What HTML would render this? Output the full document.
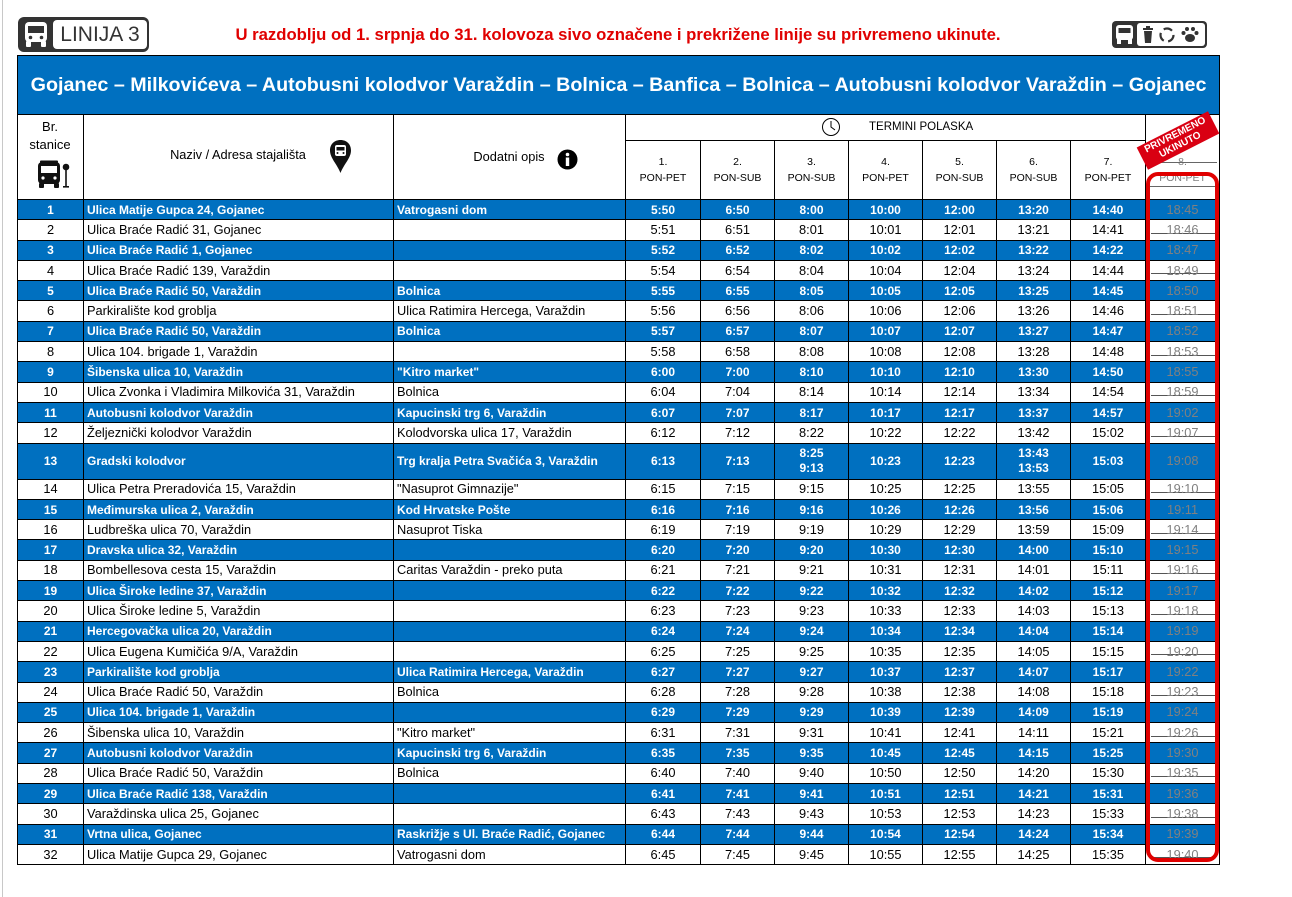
<!DOCTYPE html>
<html>
<head>
<meta charset="utf-8">
<style>
  html,body{margin:0;padding:0;background:#fff;}
  body{width:1292px;height:897px;position:relative;overflow:hidden;font-family:"Liberation Sans",Arial,sans-serif;}
  .abs{position:absolute;}
  .leftline{position:absolute;left:2px;top:0;width:1px;height:897px;background:#c8c8c8;}
  table{position:absolute;left:17px;top:55px;width:1202px;border-collapse:collapse;table-layout:fixed;}
  td{border:1px solid #000;padding:0 3px;font-size:12.8px;color:#000;white-space:nowrap;overflow:hidden;text-align:center;vertical-align:middle;line-height:14px;}
  td.l{text-align:left;}
  tr.d{height:20.3px;}
  tr.b td{background:#0070C0;color:#fff;font-weight:bold;font-size:12px;}
  td.g{color:#808080 !important;font-weight:normal !important;font-size:12.8px !important;
       background-image:linear-gradient(#555,#555);background-size:64px 1px;background-position:50% 68%;background-repeat:no-repeat;}
  tr.title td{background:#0070C0;color:#fff;font-weight:bold;font-size:19.7px;height:58px;text-align:center;padding:0;}
  .th2 td{font-size:10.5px;line-height:16px;}
</style>
</head>
<body>
<div class="leftline"></div>

<!-- LINIJA 3 badge -->
<svg class="abs" style="left:18px;top:17px" width="132" height="36" viewBox="0 0 132 36">
  <rect x="0" y="0" width="131" height="35" rx="6" fill="#333"/>
  <rect x="35" y="3" width="94" height="29" rx="4" fill="#fff"/>
  <rect x="7" y="5" width="22" height="20" rx="4" fill="#fff"/>
  <rect x="10" y="9" width="16" height="7" fill="#333"/>
  <circle cx="12.5" cy="20.5" r="1.8" fill="#333"/>
  <circle cx="23.5" cy="20.5" r="1.8" fill="#333"/>
  <rect x="8" y="24" width="5" height="6" rx="1" fill="#fff"/>
  <rect x="23" y="24" width="5" height="6" rx="1" fill="#fff"/>
</svg>
<div class="abs" style="left:53px;top:20px;width:94px;height:29px;line-height:29px;text-align:center;font-size:21px;color:#333;">LINIJA 3</div>

<div class="abs" style="left:118px;top:24px;width:1000px;text-align:center;font-size:16.7px;font-weight:bold;color:#e00000;line-height:22px;">U razdoblju od 1. srpnja do 31. kolovoza sivo označene i prekrižene linije su privremeno ukinute.</div>

<!-- right icon box -->
<svg class="abs" style="left:1112px;top:21px" width="96" height="28" viewBox="0 0 96 28">
  <rect x="0" y="0" width="95" height="27" rx="4" fill="#333"/>
  <rect x="25" y="2" width="68" height="23" rx="3" fill="#fff"/>
  <rect x="4" y="4" width="17" height="15" rx="3" fill="#fff"/>
  <rect x="6.5" y="7" width="12" height="5" fill="#333"/>
  <rect x="5" y="18" width="4" height="5" fill="#fff"/>
  <rect x="16" y="18" width="4" height="5" fill="#fff"/>
  <rect x="31" y="7" width="10" height="2" fill="#333"/>
  <path d="M32 10 L40 10 L39 22 L33 22 Z" fill="#333"/>
  <rect x="34" y="5" width="4" height="2" fill="#333"/>
  <circle cx="55" cy="14" r="6.5" fill="none" stroke="#333" stroke-width="2.2" stroke-dasharray="9 4.5"/>
  <ellipse cx="78" cy="17" rx="5" ry="4" fill="#333"/>
  <circle cx="71.5" cy="12" r="2" fill="#333"/>
  <circle cx="75" cy="8" r="2" fill="#333"/>
  <circle cx="81" cy="8" r="2" fill="#333"/>
  <circle cx="84.5" cy="12" r="2" fill="#333"/>
</svg>

<table>
<colgroup>
<col style="width:66px"><col style="width:310px"><col style="width:232px">
<col style="width:75px"><col style="width:74px"><col style="width:74px"><col style="width:74px"><col style="width:74px"><col style="width:74px"><col style="width:75px"><col style="width:74px">
</colgroup>
<tr class="title"><td colspan="11">Gojanec – Milkovićeva – Autobusni kolodvor Varaždin – Bolnica – Banfica – Bolnica – Autobusni kolodvor Varaždin – Gojanec</td></tr>
<tr style="height:26px"><td rowspan="2"></td><td rowspan="2"></td><td rowspan="2"></td><td colspan="7" style="border-bottom:1px solid #000"></td><td style="border-bottom:none"></td></tr>
<tr class="th2" style="height:59px">
<td>1.<br>PON-PET</td><td>2.<br>PON-SUB</td><td>3.<br>PON-SUB</td><td>4.<br>PON-PET</td><td>5.<br>PON-SUB</td><td>6.<br>PON-SUB</td><td>7.<br>PON-PET</td><td style="color:#808080;border-top:none">8.<br>PON-PET</td>
</tr>
<tr class="d b"><td>1</td><td class="l">Ulica Matije Gupca 24, Gojanec</td><td class="l">Vatrogasni dom</td><td>5:50</td><td>6:50</td><td>8:00</td><td>10:00</td><td>12:00</td><td>13:20</td><td>14:40</td><td class="g">18:45</td></tr>
<tr class="d"><td>2</td><td class="l">Ulica Braće Radić 31, Gojanec</td><td class="l"></td><td>5:51</td><td>6:51</td><td>8:01</td><td>10:01</td><td>12:01</td><td>13:21</td><td>14:41</td><td class="g">18:46</td></tr>
<tr class="d b"><td>3</td><td class="l">Ulica Braće Radić 1, Gojanec</td><td class="l"></td><td>5:52</td><td>6:52</td><td>8:02</td><td>10:02</td><td>12:02</td><td>13:22</td><td>14:22</td><td class="g">18:47</td></tr>
<tr class="d"><td>4</td><td class="l">Ulica Braće Radić 139, Varaždin</td><td class="l"></td><td>5:54</td><td>6:54</td><td>8:04</td><td>10:04</td><td>12:04</td><td>13:24</td><td>14:44</td><td class="g">18:49</td></tr>
<tr class="d b"><td>5</td><td class="l">Ulica Braće Radić 50, Varaždin</td><td class="l">Bolnica</td><td>5:55</td><td>6:55</td><td>8:05</td><td>10:05</td><td>12:05</td><td>13:25</td><td>14:45</td><td class="g">18:50</td></tr>
<tr class="d"><td>6</td><td class="l">Parkiralište kod groblja</td><td class="l">Ulica Ratimira Hercega, Varaždin</td><td>5:56</td><td>6:56</td><td>8:06</td><td>10:06</td><td>12:06</td><td>13:26</td><td>14:46</td><td class="g">18:51</td></tr>
<tr class="d b"><td>7</td><td class="l">Ulica Braće Radić 50, Varaždin</td><td class="l">Bolnica</td><td>5:57</td><td>6:57</td><td>8:07</td><td>10:07</td><td>12:07</td><td>13:27</td><td>14:47</td><td class="g">18:52</td></tr>
<tr class="d"><td>8</td><td class="l">Ulica 104. brigade 1, Varaždin</td><td class="l"></td><td>5:58</td><td>6:58</td><td>8:08</td><td>10:08</td><td>12:08</td><td>13:28</td><td>14:48</td><td class="g">18:53</td></tr>
<tr class="d b"><td>9</td><td class="l">Šibenska ulica 10, Varaždin</td><td class="l">"Kitro market"</td><td>6:00</td><td>7:00</td><td>8:10</td><td>10:10</td><td>12:10</td><td>13:30</td><td>14:50</td><td class="g">18:55</td></tr>
<tr class="d"><td>10</td><td class="l">Ulica Zvonka i Vladimira Milkovića 31, Varaždin</td><td class="l">Bolnica</td><td>6:04</td><td>7:04</td><td>8:14</td><td>10:14</td><td>12:14</td><td>13:34</td><td>14:54</td><td class="g">18:59</td></tr>
<tr class="d b"><td>11</td><td class="l">Autobusni kolodvor Varaždin</td><td class="l">Kapucinski trg 6, Varaždin</td><td>6:07</td><td>7:07</td><td>8:17</td><td>10:17</td><td>12:17</td><td>13:37</td><td>14:57</td><td class="g">19:02</td></tr>
<tr class="d"><td>12</td><td class="l">Željeznički kolodvor Varaždin</td><td class="l">Kolodvorska ulica 17, Varaždin</td><td>6:12</td><td>7:12</td><td>8:22</td><td>10:22</td><td>12:22</td><td>13:42</td><td>15:02</td><td class="g">19:07</td></tr>
<tr class="b" style="height:36px"><td>13</td><td class="l">Gradski kolodvor</td><td class="l">Trg kralja Petra Svačića 3, Varaždin</td><td>6:13</td><td>7:13</td><td style="line-height:15px">8:25<br>9:13</td><td>10:23</td><td>12:23</td><td style="line-height:15px">13:43<br>13:53</td><td>15:03</td><td class="g">19:08</td></tr>
<tr class="d"><td>14</td><td class="l">Ulica Petra Preradovića 15, Varaždin</td><td class="l">"Nasuprot Gimnazije"</td><td>6:15</td><td>7:15</td><td>9:15</td><td>10:25</td><td>12:25</td><td>13:55</td><td>15:05</td><td class="g">19:10</td></tr>
<tr class="d b"><td>15</td><td class="l">Međimurska ulica 2, Varaždin</td><td class="l">Kod Hrvatske Pošte</td><td>6:16</td><td>7:16</td><td>9:16</td><td>10:26</td><td>12:26</td><td>13:56</td><td>15:06</td><td class="g">19:11</td></tr>
<tr class="d"><td>16</td><td class="l">Ludbreška ulica 70, Varaždin</td><td class="l">Nasuprot Tiska</td><td>6:19</td><td>7:19</td><td>9:19</td><td>10:29</td><td>12:29</td><td>13:59</td><td>15:09</td><td class="g">19:14</td></tr>
<tr class="d b"><td>17</td><td class="l">Dravska ulica 32, Varaždin</td><td class="l"></td><td>6:20</td><td>7:20</td><td>9:20</td><td>10:30</td><td>12:30</td><td>14:00</td><td>15:10</td><td class="g">19:15</td></tr>
<tr class="d"><td>18</td><td class="l">Bombellesova cesta 15, Varaždin</td><td class="l">Caritas Varaždin - preko puta</td><td>6:21</td><td>7:21</td><td>9:21</td><td>10:31</td><td>12:31</td><td>14:01</td><td>15:11</td><td class="g">19:16</td></tr>
<tr class="d b"><td>19</td><td class="l">Ulica Široke ledine 37, Varaždin</td><td class="l"></td><td>6:22</td><td>7:22</td><td>9:22</td><td>10:32</td><td>12:32</td><td>14:02</td><td>15:12</td><td class="g">19:17</td></tr>
<tr class="d"><td>20</td><td class="l">Ulica Široke ledine 5, Varaždin</td><td class="l"></td><td>6:23</td><td>7:23</td><td>9:23</td><td>10:33</td><td>12:33</td><td>14:03</td><td>15:13</td><td class="g">19:18</td></tr>
<tr class="d b"><td>21</td><td class="l">Hercegovačka ulica 20, Varaždin</td><td class="l"></td><td>6:24</td><td>7:24</td><td>9:24</td><td>10:34</td><td>12:34</td><td>14:04</td><td>15:14</td><td class="g">19:19</td></tr>
<tr class="d"><td>22</td><td class="l">Ulica Eugena Kumičića 9/A, Varaždin</td><td class="l"></td><td>6:25</td><td>7:25</td><td>9:25</td><td>10:35</td><td>12:35</td><td>14:05</td><td>15:15</td><td class="g">19:20</td></tr>
<tr class="d b"><td>23</td><td class="l">Parkiralište kod groblja</td><td class="l">Ulica Ratimira Hercega, Varaždin</td><td>6:27</td><td>7:27</td><td>9:27</td><td>10:37</td><td>12:37</td><td>14:07</td><td>15:17</td><td class="g">19:22</td></tr>
<tr class="d"><td>24</td><td class="l">Ulica Braće Radić 50, Varaždin</td><td class="l">Bolnica</td><td>6:28</td><td>7:28</td><td>9:28</td><td>10:38</td><td>12:38</td><td>14:08</td><td>15:18</td><td class="g">19:23</td></tr>
<tr class="d b"><td>25</td><td class="l">Ulica 104. brigade 1, Varaždin</td><td class="l"></td><td>6:29</td><td>7:29</td><td>9:29</td><td>10:39</td><td>12:39</td><td>14:09</td><td>15:19</td><td class="g">19:24</td></tr>
<tr class="d"><td>26</td><td class="l">Šibenska ulica 10, Varaždin</td><td class="l">"Kitro market"</td><td>6:31</td><td>7:31</td><td>9:31</td><td>10:41</td><td>12:41</td><td>14:11</td><td>15:21</td><td class="g">19:26</td></tr>
<tr class="d b"><td>27</td><td class="l">Autobusni kolodvor Varaždin</td><td class="l">Kapucinski trg 6, Varaždin</td><td>6:35</td><td>7:35</td><td>9:35</td><td>10:45</td><td>12:45</td><td>14:15</td><td>15:25</td><td class="g">19:30</td></tr>
<tr class="d"><td>28</td><td class="l">Ulica Braće Radić 50, Varaždin</td><td class="l">Bolnica</td><td>6:40</td><td>7:40</td><td>9:40</td><td>10:50</td><td>12:50</td><td>14:20</td><td>15:30</td><td class="g">19:35</td></tr>
<tr class="d b"><td>29</td><td class="l">Ulica Braće Radić 138, Varaždin</td><td class="l"></td><td>6:41</td><td>7:41</td><td>9:41</td><td>10:51</td><td>12:51</td><td>14:21</td><td>15:31</td><td class="g">19:36</td></tr>
<tr class="d"><td>30</td><td class="l">Varaždinska ulica 25, Gojanec</td><td class="l"></td><td>6:43</td><td>7:43</td><td>9:43</td><td>10:53</td><td>12:53</td><td>14:23</td><td>15:33</td><td class="g">19:38</td></tr>
<tr class="d b"><td>31</td><td class="l">Vrtna ulica, Gojanec</td><td class="l">Raskrižje s Ul. Braće Radić, Gojanec</td><td>6:44</td><td>7:44</td><td>9:44</td><td>10:54</td><td>12:54</td><td>14:24</td><td>15:34</td><td class="g">19:39</td></tr>
<tr class="d"><td>32</td><td class="l">Ulica Matije Gupca 29, Gojanec</td><td class="l">Vatrogasni dom</td><td>6:45</td><td>7:45</td><td>9:45</td><td>10:55</td><td>12:55</td><td>14:25</td><td>15:35</td><td class="g">19:40</td></tr>
</table>

<!-- header overlays -->
<div class="abs" style="left:17px;top:118px;width:66px;text-align:center;font-size:13px;line-height:18px;">Br.<br>stanice</div>
<svg class="abs" style="left:37px;top:159px" width="34" height="31" viewBox="0 0 34 31">
  <rect x="1" y="3" width="22" height="22" rx="4" fill="#111"/>
  <rect x="4" y="7" width="16" height="7" fill="#fff"/>
  <rect x="3" y="1.5" width="18" height="2.5" rx="1" fill="#111"/>
  <circle cx="6" cy="19" r="1.6" fill="#fff"/>
  <circle cx="18" cy="19" r="1.6" fill="#fff"/>
  <rect x="2" y="24" width="5" height="5" rx="1" fill="#111"/>
  <rect x="17" y="24" width="5" height="5" rx="1" fill="#111"/>
  <circle cx="29" cy="8" r="3.3" fill="#111"/>
  <rect x="28.2" y="10" width="1.6" height="18" fill="#111"/>
  <rect x="26" y="27" width="6" height="1.6" fill="#111"/>
</svg>
<div class="abs" style="left:83px;top:147px;width:310px;text-align:center;font-size:12.8px;line-height:16px;">Naziv / Adresa stajališta</div>
<svg class="abs" style="left:329px;top:139px" width="23" height="35" viewBox="0 0 23 35">
  <path d="M11.5 1 C5 1 1 5.5 1 11.5 C1 19 8 25 11.5 34 C15 25 22 19 22 11.5 C22 5.5 18 1 11.5 1 Z" fill="#111"/>
  <rect x="6" y="6" width="11" height="11" rx="2" fill="#fff"/>
  <rect x="7.5" y="8" width="8" height="3.5" fill="#111"/>
  <circle cx="8.5" cy="14" r="1" fill="#111"/>
  <circle cx="14.5" cy="14" r="1" fill="#111"/>
</svg>
<div class="abs" style="left:393px;top:149px;width:232px;text-align:center;font-size:12.8px;line-height:16px;">Dodatni opis</div>
<svg class="abs" style="left:557px;top:149px" width="21" height="21" viewBox="0 0 21 21">
  <circle cx="10.5" cy="10.5" r="10" fill="#000"/>
  <circle cx="10.5" cy="5.5" r="1.8" fill="#fff"/>
  <rect x="8.8" y="8.5" width="3.4" height="8.5" fill="#fff"/>
</svg>
<svg class="abs" style="left:821px;top:117px" width="20" height="20" viewBox="0 0 20 20">
  <circle cx="10" cy="10" r="8.5" fill="none" stroke="#000" stroke-width="1"/>
  <path d="M10 4 L10 10 L14 13" fill="none" stroke="#000" stroke-width="1"/>
</svg>
<div class="abs" style="left:869px;top:119px;font-size:11.5px;line-height:16px;">TERMINI POLASKA</div>

<!-- col 8 header strike lines -->
<div class="abs" style="left:1147px;top:162px;width:70px;height:1px;background:#666;"></div>
<div class="abs" style="left:1147px;top:186px;width:70px;height:1px;background:#666;"></div>

<!-- red rounded frame -->
<div class="abs" style="left:1146px;top:172px;width:73px;height:690px;box-sizing:border-box;border:4px solid #e00000;border-radius:12px;"></div>

<!-- stamp -->
<div class="abs" style="left:1138px;top:128px;width:80px;height:25px;background:#d90012;color:#fff;font-weight:bold;font-size:10px;line-height:11px;text-align:center;transform:rotate(-27deg);padding-top:1px;box-sizing:border-box;">PRIVREMENO<br>UKINUTO</div>

</body>
</html>
